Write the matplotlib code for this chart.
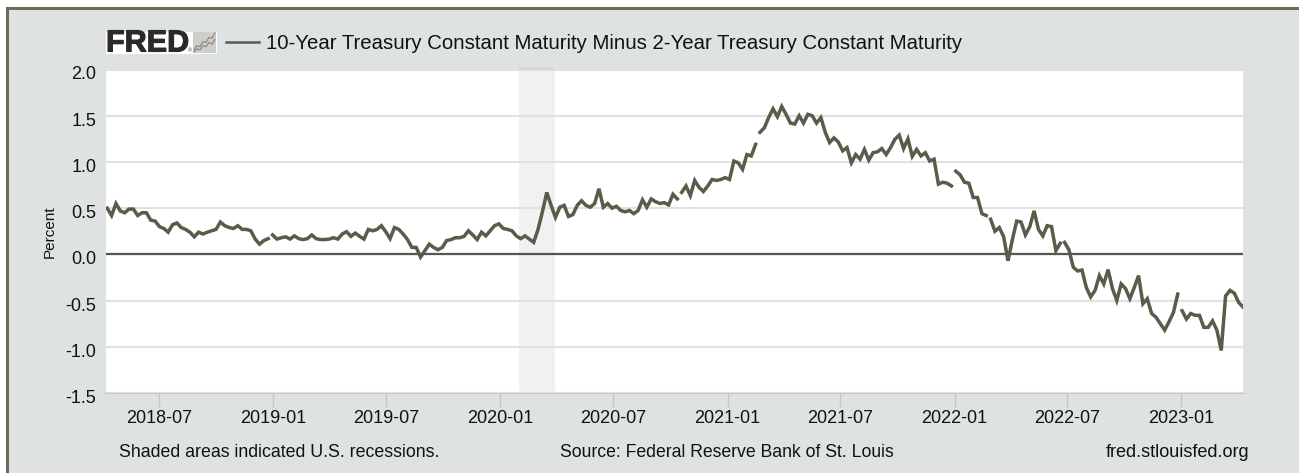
#!/usr/bin/env python3

import matplotlib
matplotlib.use('Agg')
import matplotlib.pyplot as plt
import matplotlib.dates as mdates
import matplotlib.patheffects as pe
from matplotlib.patches import Rectangle
from matplotlib.transforms import ScaledTranslation
import pandas as pd

plt.rcParams['font.family'] = ['Liberation Sans', 'DejaVu Sans']

WIDTH, HEIGHT = 1299, 473
PANEL_COLOR = '#dfe2e3'
LINE_COLOR = '#5c5a49'
BORDER_COLOR = '#6d6a55'
GRID_COLOR = '#e1e1e1'

title = '10-Year Treasury Constant Maturity Minus 2-Year Treasury Constant Maturity'
y_label = 'Percent'
y_ticks = [-1.5, -1.0, -0.5, 0.0, 0.5, 1.0, 1.5, 2.0]
x_ticks = ['2018-07-01', '2019-01-01', '2019-07-01', '2020-01-01', '2020-07-01',
           '2021-01-01', '2021-07-01', '2022-01-01', '2022-07-01', '2023-01-01']
x_range = ['2018-04-07', '2023-04-10']
recession = ['2020-01-31', '2020-03-29']
start_date = '2018-04-09'

# weekly readings of T10Y2Y, one list per stretch of the chart
values_2018 = [
    .50, .42, .55, .47, .45, .49, .49, .42, .45, .45, .37, .36, .30, .28, .24, .32, .34,
    .29, .27, .24, .19, .24, .22, .24, .255, .27, .35, .31, .29, .28, .31, .27, .27, .255,
    .165, .11, .15, .17, .21, .165, .18, .19, .165, .20, .17, .16, .17, .21, .17,
]
values_2019 = [
    .16, .16, .165, .18, .165, .22, .245, .195, .23, .195, .165, .27, .255, .27, .31, .245,
    .17, .29, .27, .22, .16, .075, .075, -.03, .04, .11, .075, .05, .075, .15, .16, .18,
    .18, .195, .255, .21, .16, .24, .20, .255, .31, .33, .28, .27, .255, .20, .17, .20,
    .165, .13, .27,
]
values_2020 = [
    .46, .67, .53, .40, .51, .53, .41, .43, .53, .58, .53, .51, .55, .71, .51, .55, .50,
    .52, .475, .46, .475, .44, .475, .59, .51, .60, .57, .55, .56, .535, .65, .60, .67,
    .74, .635, .80, .725, .68, .74, .81, .80, .81, .83, .81, 1.01, .99, .92, 1.08,
]
values_2021 = [
    1.065, 1.19, 1.32, 1.37, 1.48, 1.575, 1.49, 1.60, 1.515, 1.42, 1.41, 1.50, 1.42, 1.515,
    1.50, 1.42, 1.48, 1.32, 1.21, 1.26, 1.215, 1.12, 1.155, .99, 1.08, 1.03, 1.135, 1.02,
    1.10, 1.11, 1.145, 1.08, 1.155, 1.245, 1.29, 1.145, 1.25, 1.06, 1.135, 1.065, 1.10,
    1.01, 1.03, .76, .78, .77, .74, .90,
]
values_2022a = [
    .86, .78, .77, .615, .615, .44, .42, .38, .25, .29, .19, -.07, .16, .36, .35, .21, .30,
    .47, .27, .20, .31, .30, .04, .12, .13, .05, -.14, -.18,
]
values_2022b = [
    -.17, -.36, -.46, -.39, -.23, -.32, -.165, -.37, -.50, -.32, -.37, -.48, -.36, -.23,
    -.535, -.48, -.64, -.68, -.75, -.82, -.73, -.63, -.43, -.61, -.70, -.64, -.66, -.66,
    -.79, -.79, -.72, -.82, -1.04, -.45, -.39, -.42, -.52, -.57,
]
# days the source has no value for, the line breaks there
gap_dates = ['2018-12-26', '2020-10-13', '2021-02-16', '2021-12-28', '2022-02-22', '2022-06-21', '2022-12-29']

# little picture inside the logo
icon_back = [.15, .35, .3, .55, .5, .75, .7, .95]
icon_front = [.05, .2, .15, .35, .3, .5, .42, .65]


def px(x, y):
    return x / WIDTH, 1 - y / HEIGHT


def put_text(fig, x, y, s, **kwargs):
    kwargs.setdefault('va', 'center')
    kwargs.setdefault('color', '#111111')
    fig.text(*px(x, y), s, **kwargs)


def add_box(fig, x0, y1, w, h, color, zorder):
    fig.add_artist(Rectangle(px(x0, y1), w / WIDTH, h / HEIGHT, transform=fig.transFigure,
                             facecolor=color, edgecolor='none', zorder=zorder))


def main():
    values = values_2018 + values_2019 + values_2020 + values_2021 + values_2022a + values_2022b
    series = pd.Series(values, index=pd.date_range(start_date, periods=len(values), freq='7D'))
    gaps = pd.Series(float('nan'), index=pd.to_datetime(gap_dates))
    series = pd.concat([series, gaps]).sort_index()

    fig = plt.figure(figsize=(WIDTH / 100, HEIGHT / 100), dpi=100, facecolor='white')
    add_box(fig, 6, 473, 1293, 466, PANEL_COLOR, -10)
    add_box(fig, 6, 10, 1293, 3, BORDER_COLOR, -9)
    add_box(fig, 6, 473, 3, 466, BORDER_COLOR, -9)

    left, bottom = px(106, 393)
    ax = fig.add_axes([left, bottom, (1243 - 106) / WIDTH, (393 - 69.5) / HEIGHT], facecolor='white')

    ax.set_xlim(*pd.to_datetime(x_range))
    ax.set_ylim(-1.5, 2.0)
    ax.set_yticks(y_ticks)
    ax.set_yticklabels([f'{v:.1f}' for v in y_ticks], fontsize=13, color='#111111')
    ax.set_xticks(pd.to_datetime(x_ticks))
    ax.xaxis.set_major_formatter(mdates.DateFormatter('%Y-%m'))
    ax.tick_params(axis='y', length=0, pad=7)
    ax.tick_params(axis='x', length=10, width=1, color='#c4c6c7', labelsize=13, labelcolor='#111111', pad=2)
    for spine in ax.spines.values():
        spine.set_visible(False)
    # the labels sit a little under their grid lines
    nudge = ScaledTranslation(0, -2.5 / 72, fig.dpi_scale_trans)
    for label in ax.get_yticklabels():
        label.set_transform(label.get_transform() + nudge)

    ax.grid(axis='y', color=GRID_COLOR, lw=1.5, zorder=1)
    ax.axhline(-1.5, color='#c4c6c7', lw=1.5, zorder=1, clip_on=False)
    ax.axhline(0, color='#555555', lw=1.6, zorder=2)
    span = ax.axvspan(*pd.to_datetime(recession), ymin=0, ymax=1.008, facecolor='#9a9a9a', alpha=0.13,
                      edgecolor='none', zorder=1.5)
    span.set_clip_on(False)
    ax.plot(series.index, series.values, color=LINE_COLOR, lw=2.5, zorder=3, solid_joinstyle='miter')

    put_text(fig, 50, 232, y_label, rotation=90, ha='center', fontsize=11)
    put_text(fig, 266, 43.5, title, fontsize=14.65)
    put_text(fig, 119, 452, 'Shaded areas indicated U.S. recessions.', fontsize=12.75)
    put_text(fig, 560, 452, 'Source: Federal Reserve Bank of St. Louis', fontsize=12.7)
    put_text(fig, 1106, 452, 'fred.stlouisfed.org', fontsize=13.05)

    # logo
    add_box(fig, 106, 54, 111, 22, 'white', -8)
    put_text(fig, 106, 43.5, 'FRED', fontsize=22, fontweight='bold', color='#2b2a29',
             path_effects=[pe.withStroke(linewidth=0.8, foreground='#2b2a29')])
    put_text(fig, 188, 51, '®', fontsize=4, color='#444444')
    icon = fig.add_axes([*px(193, 53), 23 / WIDTH, 21 / HEIGHT], facecolor='#cfcecb')
    icon.plot(icon_back, color='#8c8b85', lw=0.9)
    icon.plot(icon_front, color='#8c8b85', lw=0.9)
    icon.set_ylim(0, 1)
    icon.set_xticks([])
    icon.set_yticks([])
    for spine in icon.spines.values():
        spine.set_visible(False)

    fig.add_artist(plt.Line2D([226 / WIDTH, 259 / WIDTH], [px(0, 42)[1]] * 2, color=LINE_COLOR, lw=1.8,
                              transform=fig.transFigure))

    fig.savefig('out.png', dpi=100)


if __name__ == "__main__":
    main()
